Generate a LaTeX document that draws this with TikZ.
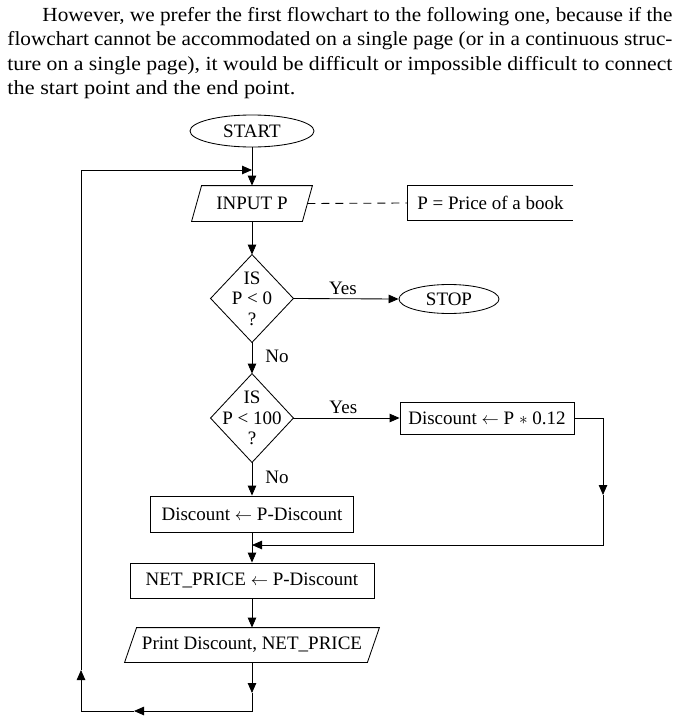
\documentclass[tikz,border=0pt]{standalone}
\usepackage{fontspec}
\setmainfont{Liberation Serif}
\usepackage{graphicx}
\usetikzlibrary{arrows.meta,shapes.geometric}
\begin{document}
\begin{tikzpicture}[x=1pt,y=1pt,
  line width=0.85pt,
  font=\fontsize{19}{20.5}\selectfont,
  arr/.style={-{Triangle[length=10pt,width=8.5pt]}},
  boxn/.style={draw, rectangle, inner sep=0pt},
  ell/.style={draw, ellipse, inner sep=0pt},
  plain/.style={inner sep=0pt, align=center},
  para/.style={anchor=base west, inner sep=0pt, font=\fontsize{20}{24}\selectfont},
  lbl/.style={inner sep=0pt}
]
\useasboundingbox (0,0) rectangle (679,-720);

% paragraph
\node[para] (l1) at (42,-21) {\resizebox{630pt}{\height}{However, we prefer the first flowchart to the following one, because if the}};
\node[para] (l2) at (7,-45.5) {\resizebox{665pt}{\height}{flowchart cannot be accommodated on a single page (or in a continuous struc-}};
\node[para] (l3) at (7,-70) {\resizebox{665pt}{\height}{ture on a single page), it would be difficult or impossible difficult to connect}};
\node[para] (l4) at (7,-94.5) {\resizebox{288pt}{\height}{the start point and the end point.}};

% nodes
\node[ell, minimum width=124pt, minimum height=32pt] (start) at (252,-131) {START};
\node[plain, minimum width=110pt, minimum height=35pt] (inp) at (252,-203.5) {INPUT P};
\draw ([xshift=5pt]inp.north west) -- ([xshift=5pt]inp.north east) -- ([xshift=-5pt]inp.south east) -- ([xshift=-5pt]inp.south west) -- cycle;
\node[plain, minimum width=165pt, minimum height=34pt] (note) at (490.5,-203) {P = Price of a book};
\draw (note.north east) -- (note.north west) -- (note.south west) -- (note.south east);

\node[plain, minimum width=82pt, minimum height=87pt] (d1) at (252,-298.5) {IS\\P < 0\\?};
\draw (d1.north) -- (d1.east) -- (d1.south) -- (d1.west) -- cycle;
\node[ell, minimum width=100pt, minimum height=29pt] (stop) at (449,-299) {STOP};

\node[plain, minimum width=82pt, minimum height=88pt] (d2) at (252,-418) {IS\\P < 100\\?};
\draw (d2.north) -- (d2.east) -- (d2.south) -- (d2.west) -- cycle;
\node[boxn, minimum width=174pt, minimum height=32pt] (calc) at (487,-418) {Discount $\leftarrow$ P $\ast$ 0.12};

\node[boxn, minimum width=203pt, minimum height=36pt] (disc) at (252,-514) {Discount $\leftarrow$ P-Discount};
\node[boxn, minimum width=244pt, minimum height=35pt] (net) at (252,-580.5) {NET\_PRICE $\leftarrow$ P-Discount};
\node[plain, minimum width=242pt, minimum height=34pt] (prn) at (252,-645) {Print Discount, NET\_PRICE};
\draw ([xshift=6pt]prn.north west) -- ([xshift=6pt]prn.north east) -- ([xshift=-6pt]prn.south east) -- ([xshift=-6pt]prn.south west) -- cycle;

% coordinates
\coordinate (j1) at (252,-170);
\coordinate (r1) at (603,-418);
\coordinate (r2) at (603,-495);
\coordinate (r3) at (603,-545);
\coordinate (j2) at (252,-545);
\coordinate (b1) at (252,-693);
\coordinate (b2) at (252,-711);
\coordinate (b3) at (134,-711);
\coordinate (b4) at (81,-711);
\coordinate (b5) at (81,-670);
\coordinate (b6) at (81,-170);

% connectors
\draw[arr] (start.south) -- (inp.north);
\draw[dash pattern=on 8pt off 6pt] (inp.east) -- (note.west);
\draw[arr] (inp.south) -- (d1.north);
\draw[arr] (d1.east) -- node[lbl, above=4pt, pos=0.47] {Yes} (stop.west);
\draw[arr] (d1.south) -- node[lbl, right=13pt, pos=0.45] {No} (d2.north);
\draw[arr] (d2.east) -- node[lbl, above=4pt, pos=0.47] {Yes} (calc.west);
\draw[arr] (d2.south) -- node[lbl, right=13pt, pos=0.45] {No} (disc.north);
\draw[arr] (calc.east) -- (r1) -- (r2);
\draw[arr] (r2) -- (r3) -- (j2);
\draw[arr] (disc.south) -- (net.north);
\draw[arr] (net.south) -- (prn.north);
\draw[arr] (prn.south) -- (b1);
\draw[arr] (b1) -- (b2) -- (b3);
\draw[arr] (b3) -- (b4) -- (b5);
\draw[arr] (b5) -- (b6) -- (j1);
\end{tikzpicture}
\end{document}
